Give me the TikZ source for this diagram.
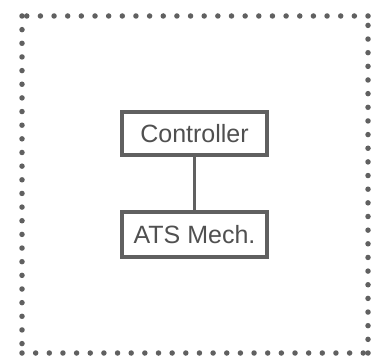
\documentclass[tikz,border=0pt]{standalone}
\usepackage{fontspec}
\setmainfont{Liberation Sans}
\usepackage{tikz}
\usetikzlibrary{positioning}

\definecolor{linegray}{HTML}{606060}
\definecolor{textgray}{HTML}{505050}

\begin{document}
\begin{tikzpicture}
			[
				x=1pt, y=1pt,
				block/.style={draw=linegray, line width=3.5pt, fill=white,
					text=textgray, font=\fontsize{25}{30}\selectfont,
					inner sep=0pt, minimum width=145pt},
				frame/.style={draw=linegray, line width=5.5pt, line cap=round,
					dash pattern=on 0pt off 13.65pt},
				link/.style={draw=linegray, line width=3.5pt}
			]

			\useasboundingbox (0,0) rectangle (377,356);

			% frame corners
			\coordinate (tl) at ( 22, 340);
			\coordinate (bl) at ( 22,   3);
			\coordinate (br) at (368,   3);
			\coordinate (tr) at (368, 340);

			% blocks
			\node[block, minimum height=43pt] (ctrl) at (194.5, 222.25) {Controller};
			\node[block, minimum height=45pt] (mech) at (194.5, 121.5) {ATS Mech.};

			% dotted frame, one side at a time
			\foreach \from/\to in {tl/bl,bl/br,br/tr,tr/tl}
			\draw[frame] (\from) -- (\to);

			% link
			\draw[link] (ctrl) -- (mech);

		\end{tikzpicture}
\end{document}
